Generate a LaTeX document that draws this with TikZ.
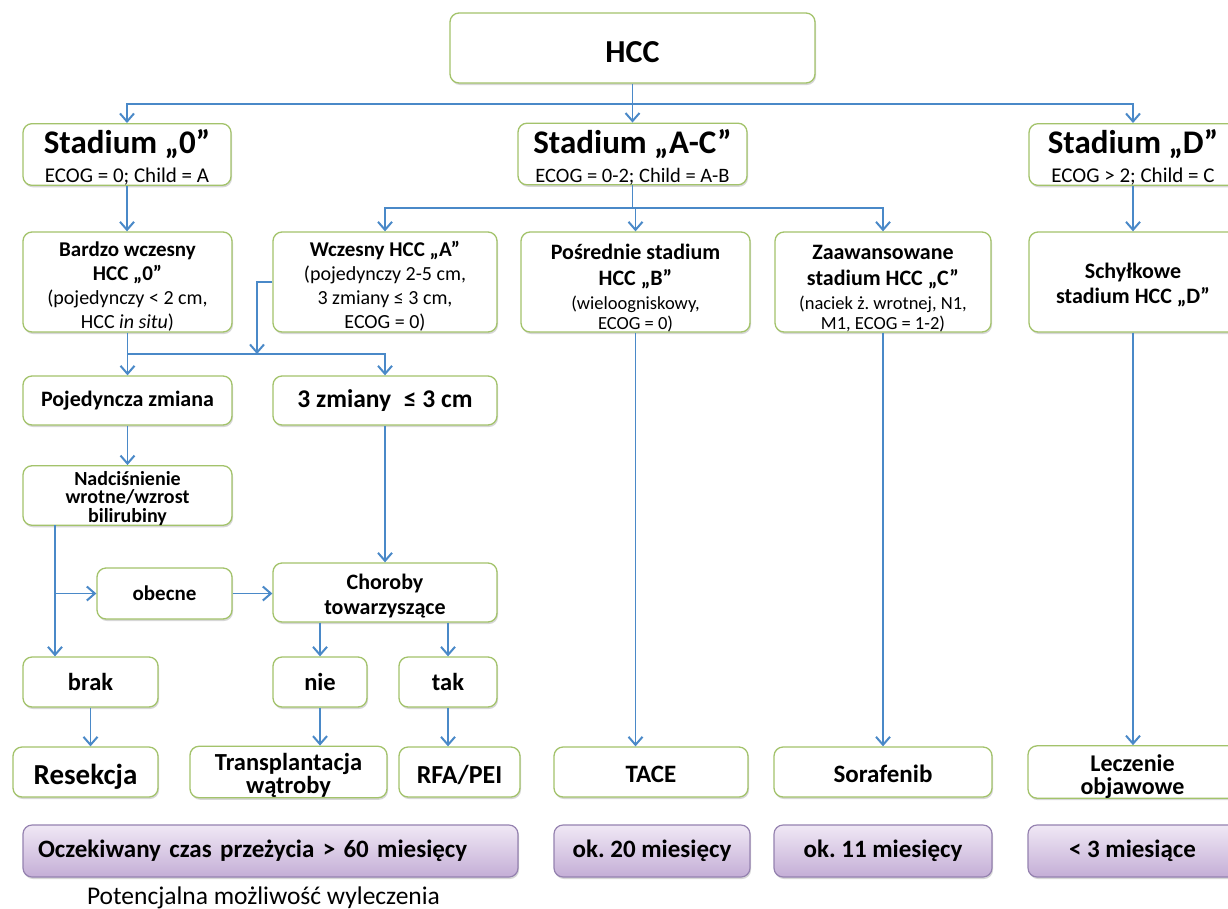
\documentclass[tikz,border=0pt]{standalone}
\usepackage{fontspec}
\setmainfont{Carlito}
\usetikzlibrary{arrows.meta,shadows}
\definecolor{bgreen}{HTML}{A3C36B}
\definecolor{ablue}{HTML}{4A89C8}
\definecolor{ptop}{HTML}{F0E8F5}
\definecolor{pbot}{HTML}{C4AED6}
\definecolor{pbord}{HTML}{9582B0}
\newcommand\fsz[2]{\fontsize{#1}{#2}\selectfont}
\newcommand\st[1]{\rule{0pt}{#1pt}}
\frenchspacing
\tikzset{
  gbox/.style={draw=bgreen, line width=1.3pt, rounded corners=9pt, fill=white,
    align=center, inner sep=0pt,
    drop shadow={shadow xshift=1pt, shadow yshift=-2pt, opacity=0.22, fill=black!70}},
  pbox/.style={draw=pbord, line width=1.2pt, rounded corners=9pt,
    top color=ptop, bottom color=pbot, inner sep=0pt, minimum height=52pt,
    font=\bfseries\fsz{25}{28},
    drop shadow={shadow xshift=1pt, shadow yshift=-2pt, opacity=0.22, fill=black!70}},
  conn/.style={draw=ablue, line width=1.4pt},
  arr/.style={conn, -{Straight Barb[length=8pt,width=14pt,line width=2pt]}},
}
\begin{document}
\begin{tikzpicture}[x=1pt,y=-1pt]
\useasboundingbox (0,0) rectangle (1228,908);
\clip (0,0) rectangle (1228,908);
\fill[white] (0,0) rectangle (1228,908);

% level 0
\node[gbox, minimum width=365pt, minimum height=70pt, font=\bfseries\fsz{32}{36}] (hcc) at (632.5,48) {\st{29.6}HCC};

% level 1
\node[gbox, minimum width=208pt, minimum height=61pt, font=\fsz{21}{29}] (st0) at (127,154.5)
  {{\bfseries\fsz{33}{36}\st{30}Stadium „0”}\\ECOG = 0; Child = A};
\node[gbox, minimum width=229pt, minimum height=60pt, font=\fsz{20.5}{29}] (stac) at (632.5,154)
  {{\bfseries\fsz{33}{36}\st{30}Stadium „A-C”}\\ECOG = 0-2; Child = A-B};
\node[gbox, minimum width=208pt, minimum height=61pt, font=\fsz{21}{29}] (std) at (1133,154.5)
  {{\bfseries\fsz{33}{36}\st{30}Stadium „D”}\\ECOG > 2; Child = C};

% level 2
\node[gbox, minimum width=209pt, minimum height=100pt, font=\fsz{20}{24}] (bw) at (127.5,282)
  {{\bfseries\fsz{21}{24}\st{24.6}Bardzo wczesny}\\{\bfseries\fsz{21}{24}HCC „0”}\\(pojedynczy < 2 cm,\\HCC \textit{in situ})};
\node[gbox, minimum width=224pt, minimum height=100pt, font=\fsz{20}{24}] (wc) at (385,282)
  {{\bfseries\fsz{21}{24}\st{24.6}Wczesny HCC „A”}\\(pojedynczy 2-5 cm,\\3 zmiany ≤ 3 cm,\\ECOG = 0)};
\node[gbox, minimum width=229pt, minimum height=100pt, font=\fsz{18.5}{24}] (ps) at (635.5,282)
  {{\bfseries\fsz{22}{24}\st{27}Pośrednie stadium}\\[2pt]{\bfseries\fsz{22}{24}HCC „B”}\\(wieloogniskowy,\\[-4pt]ECOG = 0)};
\node[gbox, minimum width=216pt, minimum height=100pt, font=\fsz{18.5}{24}] (za) at (883,282)
  {{\bfseries\fsz{22}{24}\st{27}Zaawansowane}\\[2pt]{\bfseries\fsz{22}{24}stadium HCC „C”}\\(naciek ż. wrotnej, N1,\\[-4pt]M1, ECOG = 1-2)};
\node[gbox, minimum width=208pt, minimum height=100pt, font=\bfseries\fsz{22}{25}] (sc) at (1133,282)
  {\st{21}Schyłkowe\\stadium HCC „D”};

% level 3
\node[gbox, minimum width=209pt, minimum height=49pt, font=\bfseries\fsz{22}{24}] (pz) at (127.5,400.5) {Pojedyncza zmiana};
\node[gbox, minimum width=224pt, minimum height=49pt, font=\bfseries\fsz{25.5}{28}] (tz) at (385,400.5) {3 zmiany\enspace≤ 3 cm};
\node[gbox, minimum width=209pt, minimum height=59pt, font=\bfseries\fsz{20}{18.5}] (nad) at (127.5,495.5)
  {\st{19.4}Nadciśnienie\\wrotne/wzrost\\bilirubiny};
\node[gbox, minimum width=135pt, minimum height=51pt, font=\bfseries\fsz{21}{24}] (ob) at (164.5,593.5) {obecne};
\node[gbox, minimum width=224pt, minimum height=59pt, font=\bfseries\fsz{22}{25}] (ch) at (385,592.5) {\st{22.8}Choroby\\towarzyszące};
\node[gbox, minimum width=135pt, minimum height=50pt, font=\bfseries\fsz{24.5}{28}] (brak) at (90.5,682) {brak};
\node[gbox, minimum width=94pt, minimum height=50pt, font=\bfseries\fsz{24.5}{28}] (nie) at (320,682) {nie};
\node[gbox, minimum width=98pt, minimum height=50pt, font=\bfseries\fsz{24.5}{28}] (tak) at (448,682) {tak};

% treatments
\node[gbox, minimum width=145pt, minimum height=50pt, font=\bfseries\fsz{29}{32}] (res) at (85.5,772) {\st{30.4}Resekcja};
\node[gbox, minimum width=197pt, minimum height=50pt, font=\bfseries\fsz{24.5}{23}] (tr) at (288.5,772) {\st{24.5}Transplantacja\\wątroby};
\node[gbox, minimum width=121pt, minimum height=50pt, font=\bfseries\fsz{26}{28}] (rfa) at (459.5,772) {\st{24.6}RFA/PEI};
\node[gbox, minimum width=194pt, minimum height=50pt, font=\bfseries\fsz{25}{28}] (tace) at (651,772) {\st{21}TACE};
\node[gbox, minimum width=218pt, minimum height=50pt, font=\bfseries\fsz{25}{28}] (sor) at (883,772) {\st{21}Sorafenib};
\node[gbox, minimum width=209pt, minimum height=50pt, font=\bfseries\fsz{24}{22.5}] (lecz) at (1132.5,772) {\st{25.8}Leczenie\\objawowe};

% survival
\node[pbox, text width=465pt, inner xsep=15pt, align=left] (oc) at (270.5,851) {\mbox{Oczekiwany czas przeżycia > 60 miesięcy}};
\node[pbox, minimum width=196pt] (ok20) at (652,851) {ok. 20 miesięcy};
\node[pbox, minimum width=218pt] (ok11) at (883,851) {ok. 11 miesięcy};
\node[pbox, minimum width=209pt] (lt3) at (1132.5,851) {< 3 miesiące};
\node[font=\fsz{25.5}{28}, inner sep=0pt, anchor=base] (pot) at (263.5,904) {Potencjalna możliwość wyleczenia};

% connectors
\coordinate (b1) at (632.5,104);
\draw[conn] (hcc.south) -- (b1);
\draw[arr] (b1) -| (st0.north);
\draw[arr] (b1) -- (stac.north);
\draw[arr] (b1) -| (std.north);

\draw[arr] (st0.south) -- (st0.south |- bw.north);
\coordinate (b2) at (632.5,208);
\draw[conn] (stac.south) -- (b2);
\draw[arr] (b2) -| (wc.north);
\draw[arr] (b2) -| (ps.north);
\draw[arr] (b2) -| (za.north);
\draw[arr] (std.south) -- (sc.north);

\coordinate (b3) at (127.5,354);
\coordinate (b4) at (257,354);
\draw[conn] (bw.south) -- (b3);
\draw[arr] (b3) -- (pz.north);
\draw[arr] (b3) -| (tz.north);
\draw[arr] (wc.west) -| (b4);

\draw[arr] (pz.south) -- (nad.north);
\draw[arr] (tz.south) -- (ch.north);

\coordinate (n1) at (55,525);
\draw[arr] (n1) -- (brak.north -| n1);
\draw[arr] (ob.west -| n1) -- (ob.west);
\draw[arr] (ob.east) -- (ch.west |- ob.east);

\draw[arr] (ch.south -| nie.north) -- (nie.north);
\draw[arr] (ch.south -| tak.north) -- (tak.north);

\draw[arr] (brak.south) -- (brak.south |- res.north);
\draw[arr] (nie.south) -- (nie.south |- tr.north);
\draw[arr] (tak.south) -- (tak.south |- rfa.north);
\draw[arr] (ps.south) -- (ps.south |- tace.north);
\draw[arr] (za.south) -- (za.south |- sor.north);
\draw[arr] (sc.south) -- (sc.south |- lecz.north);
\end{tikzpicture}
\end{document}
